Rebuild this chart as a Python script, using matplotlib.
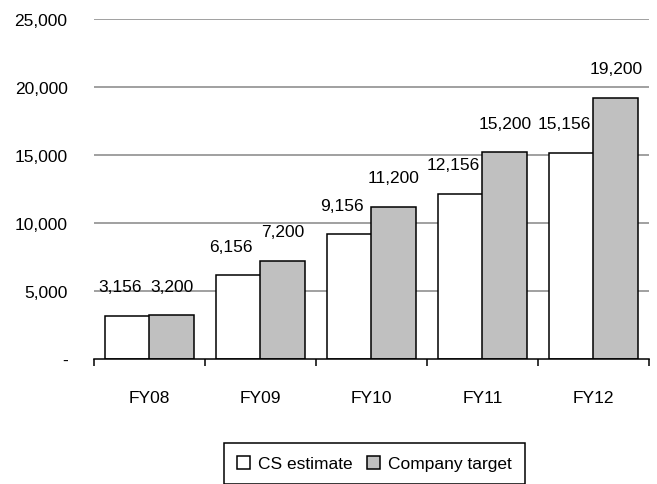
import matplotlib.pyplot as plt
import numpy as np

plt.rcParams["font.family"] = ["Liberation Sans", "DejaVu Sans"]

categories = ["FY08", "FY09", "FY10", "FY11", "FY12"]
cs_estimate = [3156, 6156, 9156, 12156, 15156]
company_target = [3200, 7200, 11200, 15200, 19200]
y_ticks = [0, 5000, 10000, 15000, 20000, 25000]
y_tick_labels = ["-", "5,000", "10,000", "15,000", "20,000", "25,000"]


def plot_chart():
    fig = plt.figure(figsize=(6.57, 4.85), dpi=100)
    ax = fig.add_axes([94 / 657, 1 - 360 / 485, 555 / 657, 340 / 485])

    x = np.arange(len(categories))
    bar_width = 0.405
    fs = 12.5

    b1 = ax.bar(x - 0.2, cs_estimate, width=bar_width, color="white",
                edgecolor="black", linewidth=1.1, zorder=3, label="CS estimate")
    b2 = ax.bar(x + 0.2, company_target, width=bar_width, color="#c0c0c0",
                edgecolor="black", linewidth=1.1, zorder=3, label="Company target")

    for i, value in enumerate(cs_estimate):
        ax.annotate("{:,}".format(value), (x[i] - 0.2, value), xytext=(-5, 21),
                    textcoords="offset points", ha="center", va="center", fontsize=fs)
    for i, value in enumerate(company_target):
        ax.annotate("{:,}".format(value), (x[i] + 0.2, value), xytext=(0, 21),
                    textcoords="offset points", ha="center", va="center", fontsize=fs)

    ax.set_xlim(-0.5, len(categories) - 0.5)
    ax.set_ylim(0, 25000)

    ax.set_yticks(y_ticks)
    ax.set_yticklabels(y_tick_labels, fontsize=fs)
    ax.tick_params(axis="y", length=0, pad=19)
    for y in y_ticks[1:]:
        ax.axhline(y, color="#a0a0a0", linewidth=1.4, zorder=1)

    # boundaries get tick marks, names sit between them
    ax.set_xticks(np.arange(len(categories) + 1) - 0.5)
    ax.set_xticklabels([])
    ax.set_xticks(x, minor=True)
    ax.set_xticklabels(categories, minor=True, fontsize=fs)
    ax.tick_params(axis="x", which="major", direction="out", length=5, width=1.1)
    ax.tick_params(axis="x", which="minor", length=0, pad=22)

    for side in ["left", "right", "top"]:
        ax.spines[side].set_visible(False)
    ax.spines["bottom"].set_linewidth(1.1)
    ax.spines["bottom"].set_zorder(4)

    leg = fig.legend(handles=[b1, b2], loc="upper left",
                     bbox_to_anchor=(224 / 657, 1 - 444 / 485), ncol=2,
                     fontsize=fs, handlelength=0.75, handleheight=0.75,
                     handletextpad=0.45, columnspacing=0.85, borderpad=0.75,
                     borderaxespad=0, fancybox=False, framealpha=1)
    leg.get_frame().set_edgecolor("black")
    leg.get_frame().set_linewidth(1.1)

    plt.savefig("out.png", dpi=100)


if __name__ == "__main__":
    plot_chart()
